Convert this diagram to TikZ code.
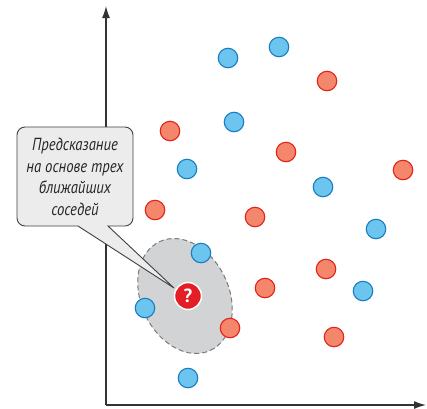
\documentclass[tikz,border=0pt]{standalone}
\usepackage{fontspec}
\newfontfamily\callfont[FakeStretch=0.84]{PT Sans}
\setsansfont{PT Sans}
\usetikzlibrary{shapes.geometric,arrows.meta}
\definecolor{bluefill}{HTML}{6CC5EE}
\definecolor{blueline}{HTML}{1A7CC2}
\definecolor{redfill}{HTML}{F3866B}
\definecolor{redline}{HTML}{E2231A}
\definecolor{qred}{HTML}{E31E25}
\definecolor{axisgray}{HTML}{333333}
\definecolor{zonefill}{HTML}{D2D3D5}
\definecolor{zoneline}{HTML}{7A7A7A}
\definecolor{calloutfill}{HTML}{ECECEC}
\tikzset{
  bpt/.style={circle,draw=blueline,fill=bluefill,line width=1.1pt,minimum size=19.5pt,inner sep=0pt},
  rpt/.style={circle,draw=redline,fill=redfill,line width=1.1pt,minimum size=19.5pt,inner sep=0pt},
  axisline/.style={draw=axisgray,line width=1.3pt,-{Latex[length=12pt,width=8pt]}},
}
\begin{document}
\begin{tikzpicture}[x=1pt,y=-1pt]
\useasboundingbox (0,0) rectangle (427,408);
% axes
\coordinate (o) at (106,405);
\coordinate (ytop) at (106,6);
\coordinate (xend) at (426,405);
\draw[axisline] (o) -- (ytop);
\draw[axisline] (o) -- (xend);
% neighbourhood zone
\node[ellipse,draw=zoneline,fill=zonefill,dash pattern=on 5pt off 3pt,line width=1pt,minimum width=120pt,minimum height=88pt,inner sep=0pt,rotate=-65] (zone) at (185,296) {};
% callout
\coordinate (tip) at (174,288);
\draw[draw=black!75,fill=calloutfill,line width=0.9pt]
  (108,226) [rounded corners=8pt] -- (133,226) -- (133,127) -- (17,127) -- (17,226) [sharp corners] -- (78,226) -- (tip) -- cycle;
\node[font=\callfont\itshape\fontsize{17.5}{21.5}\selectfont,align=center,text=black!85] (callout) at (75,177) {Предсказание\\на основе трех\\ближайших\\соседей};
% blue points
\node[bpt] (b1) at (228,58) {};
\node[bpt] (b2) at (279,47) {};
\node[bpt] (b3) at (234,122) {};
\node[bpt] (b4) at (187,169) {};
\node[bpt] (b5) at (323,187) {};
\node[bpt] (b6) at (376,229) {};
\node[bpt] (b7) at (201,253) {};
\node[bpt] (b8) at (145,308) {};
\node[bpt] (b9) at (363,291) {};
\node[bpt] (b10) at (188,378) {};
% red points
\node[rpt] (r1) at (327,81) {};
\node[rpt] (r2) at (170,131) {};
\node[rpt] (r3) at (286,152) {};
\node[rpt] (r4) at (403,170) {};
\node[rpt] (r5) at (155,210) {};
\node[rpt] (r6) at (255,217) {};
\node[rpt] (r7) at (326,269) {};
\node[rpt] (r8) at (265,288) {};
\node[rpt] (r9) at (230,328) {};
\node[rpt] (r10) at (334,337) {};
% query point
\node[circle,fill=qred,draw=white,line width=1.5pt,minimum size=27pt,inner sep=0pt,text=white,font=\sffamily\bfseries\fontsize{19}{19}\selectfont] (q) at (188,296) {?};
\end{tikzpicture}
\end{document}
